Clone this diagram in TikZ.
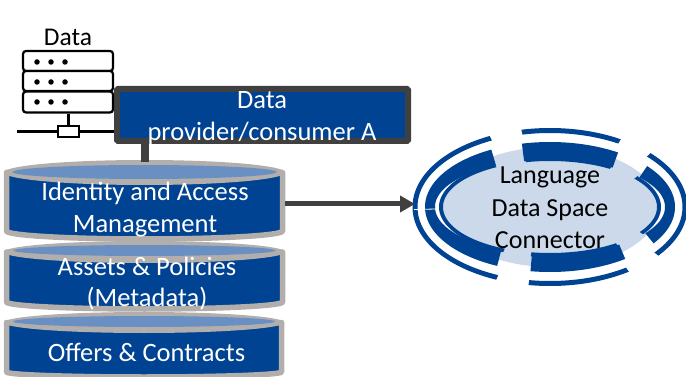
\documentclass[tikz,border=0pt]{standalone}
\usepackage{fontspec}
\setmainfont{Carlito}
\usetikzlibrary{arrows.meta,shapes.geometric}
\definecolor{dsblue}{HTML}{004393}
\definecolor{dslight}{HTML}{6A90C3}
\definecolor{dsgray}{HTML}{B2AEAC}
\definecolor{dsdark}{HTML}{404040}
\definecolor{dspale}{HTML}{CBD9EA}
\tikzset{
  cylside/.style={draw=dsgray,fill=dsblue,line width=5.5pt,line join=round},
  lbl/.style={align=center,inner sep=0pt,text=white,font=\fontsize{26.5}{31.5}\selectfont},
  srv/.style={draw=black,line width=2.2pt,fill=white,rounded corners=3pt},
  srvline/.style={draw=black,line width=2.2pt},
  dot/.style={fill=black,circle,inner sep=0pt,minimum size=5.5pt}
}
% x1 x2 ytop-centre ytop-ry ybottom ybottom-ry light-rx light-ry light-y
\newcommand{\dscyl}[9]{%
  \pgfmathsetmacro{\xa}{#1+2.5}\pgfmathsetmacro{\xb}{#2-2.5}
  \pgfmathsetmacro{\xm}{(#1+#2)/2}
  \pgfmathsetmacro{\ym}{#5+#6}
  \pgfmathsetmacro{\yc}{#5+0.5523*#6}
  \pgfmathsetmacro{\xd}{0.5523*(\xm-\xa)}
  \path[cylside] (\xa,#3) -- (\xa,#5) .. controls (\xa,\yc) and (\xm-\xd,\ym) .. (\xm,\ym) .. controls (\xm+\xd,\ym) and (\xb,\yc) .. (\xb,#5) -- (\xb,#3) -- cycle;
  \fill[dsgray] (\xm,#3) ellipse[x radius=#2/2-#1/2,y radius=#4];
  \fill[dslight] (\xm,#9) ellipse[x radius=#7,y radius=#8];
}
% band: outer rx ry, inner rx ry, from, to
\newcommand{\dsband}[6]{%
  \fill[dsblue] plot[domain=#5:#6,samples=50] ({550+#1*cos(\x)},{207-#2*sin(\x)}) --
     plot[domain=#6:#5,samples=50] ({550+#3*cos(\x)},{207-#4*sin(\x)}) -- cycle;
}
\begin{document}
\begin{tikzpicture}[x=1pt,y=-1pt]
\useasboundingbox (0,0) rectangle (686,377);
\clip (0,0) rectangle (686,377);
% cylinders
\dscyl{4}{285}{172.5}{12.5}{231}{8}{132}{7}{172}
\dscyl{4}{285}{252}{11}{302}{7}{131}{5.5}{250.5}
\dscyl{4}{284}{322.5}{10.5}{372}{5}{131}{5.5}{321.5}
\coordinate (cylA) at (285,204);
\coordinate (cylTop) at (145,162);
\coordinate (ringW) at (415,204);
% stem and box
\node[draw=dsdark,fill=dsblue,line width=6pt,rounded corners=1pt,minimum width=291pt,minimum height=52pt,inner sep=0pt] (box) at (262.5,115) {};
\coordinate (boxS) at (145,140);
\draw[draw=dsdark,line width=8pt] (boxS) -- (cylTop);
\node[lbl] (boxt) at (262,118) {Data\\provider/consumer A};
% server
\node[srv,minimum width=90pt,minimum height=20pt,inner sep=0pt] (s1) at (68,61) {};
\node[srv,minimum width=90pt,minimum height=20pt,inner sep=0pt] (s2) at (68,81) {};
\node[srv,minimum width=90pt,minimum height=21pt,inner sep=0pt] (s3) at (68,102) {};
\foreach \yy/\nn in {62/a,82/b,102/c}{
  \foreach \xx/\mm in {37/x,51/y,65/z}{
    \node[dot] (d\nn\mm) at (\xx,\yy) {};
  }
}
\node[draw=black,line width=2.2pt,fill=white,minimum width=21pt,minimum height=11pt,inner sep=0pt] (nic) at (68.5,131.5) {};
\coordinate (netL) at (17,131.5);
\draw[srvline] (s3.south -| nic.north) -- (nic.north);
\draw[srvline] (netL) -- (nic.west);
\draw[srvline] (nic.east) -- (nic.east -| box.west);
\node[inner sep=0pt,font=\fontsize{25.5}{26}\selectfont,text=black] (datal) at (68,37) {Data};
% cylinder labels
\node[lbl] (l1) at (145,209.5) {Identity and Access\\Management};
\node[lbl] (l2) at (147,283.5) {Assets \& Policies\\(Metadata)};
\node[lbl] (l3) at (146.5,352) {Offers \& Contracts};
% connector
\node[ellipse,fill=dspale,minimum width=216pt,minimum height=120pt,inner sep=0pt] (conn) at (551,207) {};
% outer thin ring
\dsband{137.5}{79}{132.5}{74}{116}{180}
\dsband{137.5}{79}{132.5}{74}{180}{247}
\dsband{137.5}{79}{132.5}{74}{59}{102}
\dsband{137.5}{79}{132.5}{74}{-38}{43}
\dsband{137.5}{79}{132.5}{74}{261}{305}
% thick ring
\dsband{125}{65}{115}{47}{118}{180}
\dsband{125}{65}{115}{47}{180}{245}
\dsband{125}{65}{115}{47}{57}{103}
\dsband{125}{65}{115}{47}{-34}{39}
\dsband{125}{65}{115}{47}{261}{307}
% inner thin ring
\dsband{111}{50}{107}{46}{120}{180}
\dsband{111}{50}{107}{46}{180}{245}
\dsband{111}{50}{107}{46}{56}{103}
\dsband{111}{50}{107}{46}{-33}{38}
\dsband{111}{50}{107}{46}{260}{308}
\coordinate (gapA) at (414,209.5);
\coordinate (gapB) at (436,209);
\draw[white,line width=0.8pt] (gapA) -- (gapB);
\draw[-{Triangle[length=15pt,width=16pt]},draw=dsdark,fill=dsdark,line width=5pt] (cylA) -- (ringW);
\node[align=center,inner sep=0pt,text=black,font=\fontsize{26}{32.5}\selectfont] (connt) at (550,208) {Language\\Data Space\\Connector};
\end{tikzpicture}
\end{document}
